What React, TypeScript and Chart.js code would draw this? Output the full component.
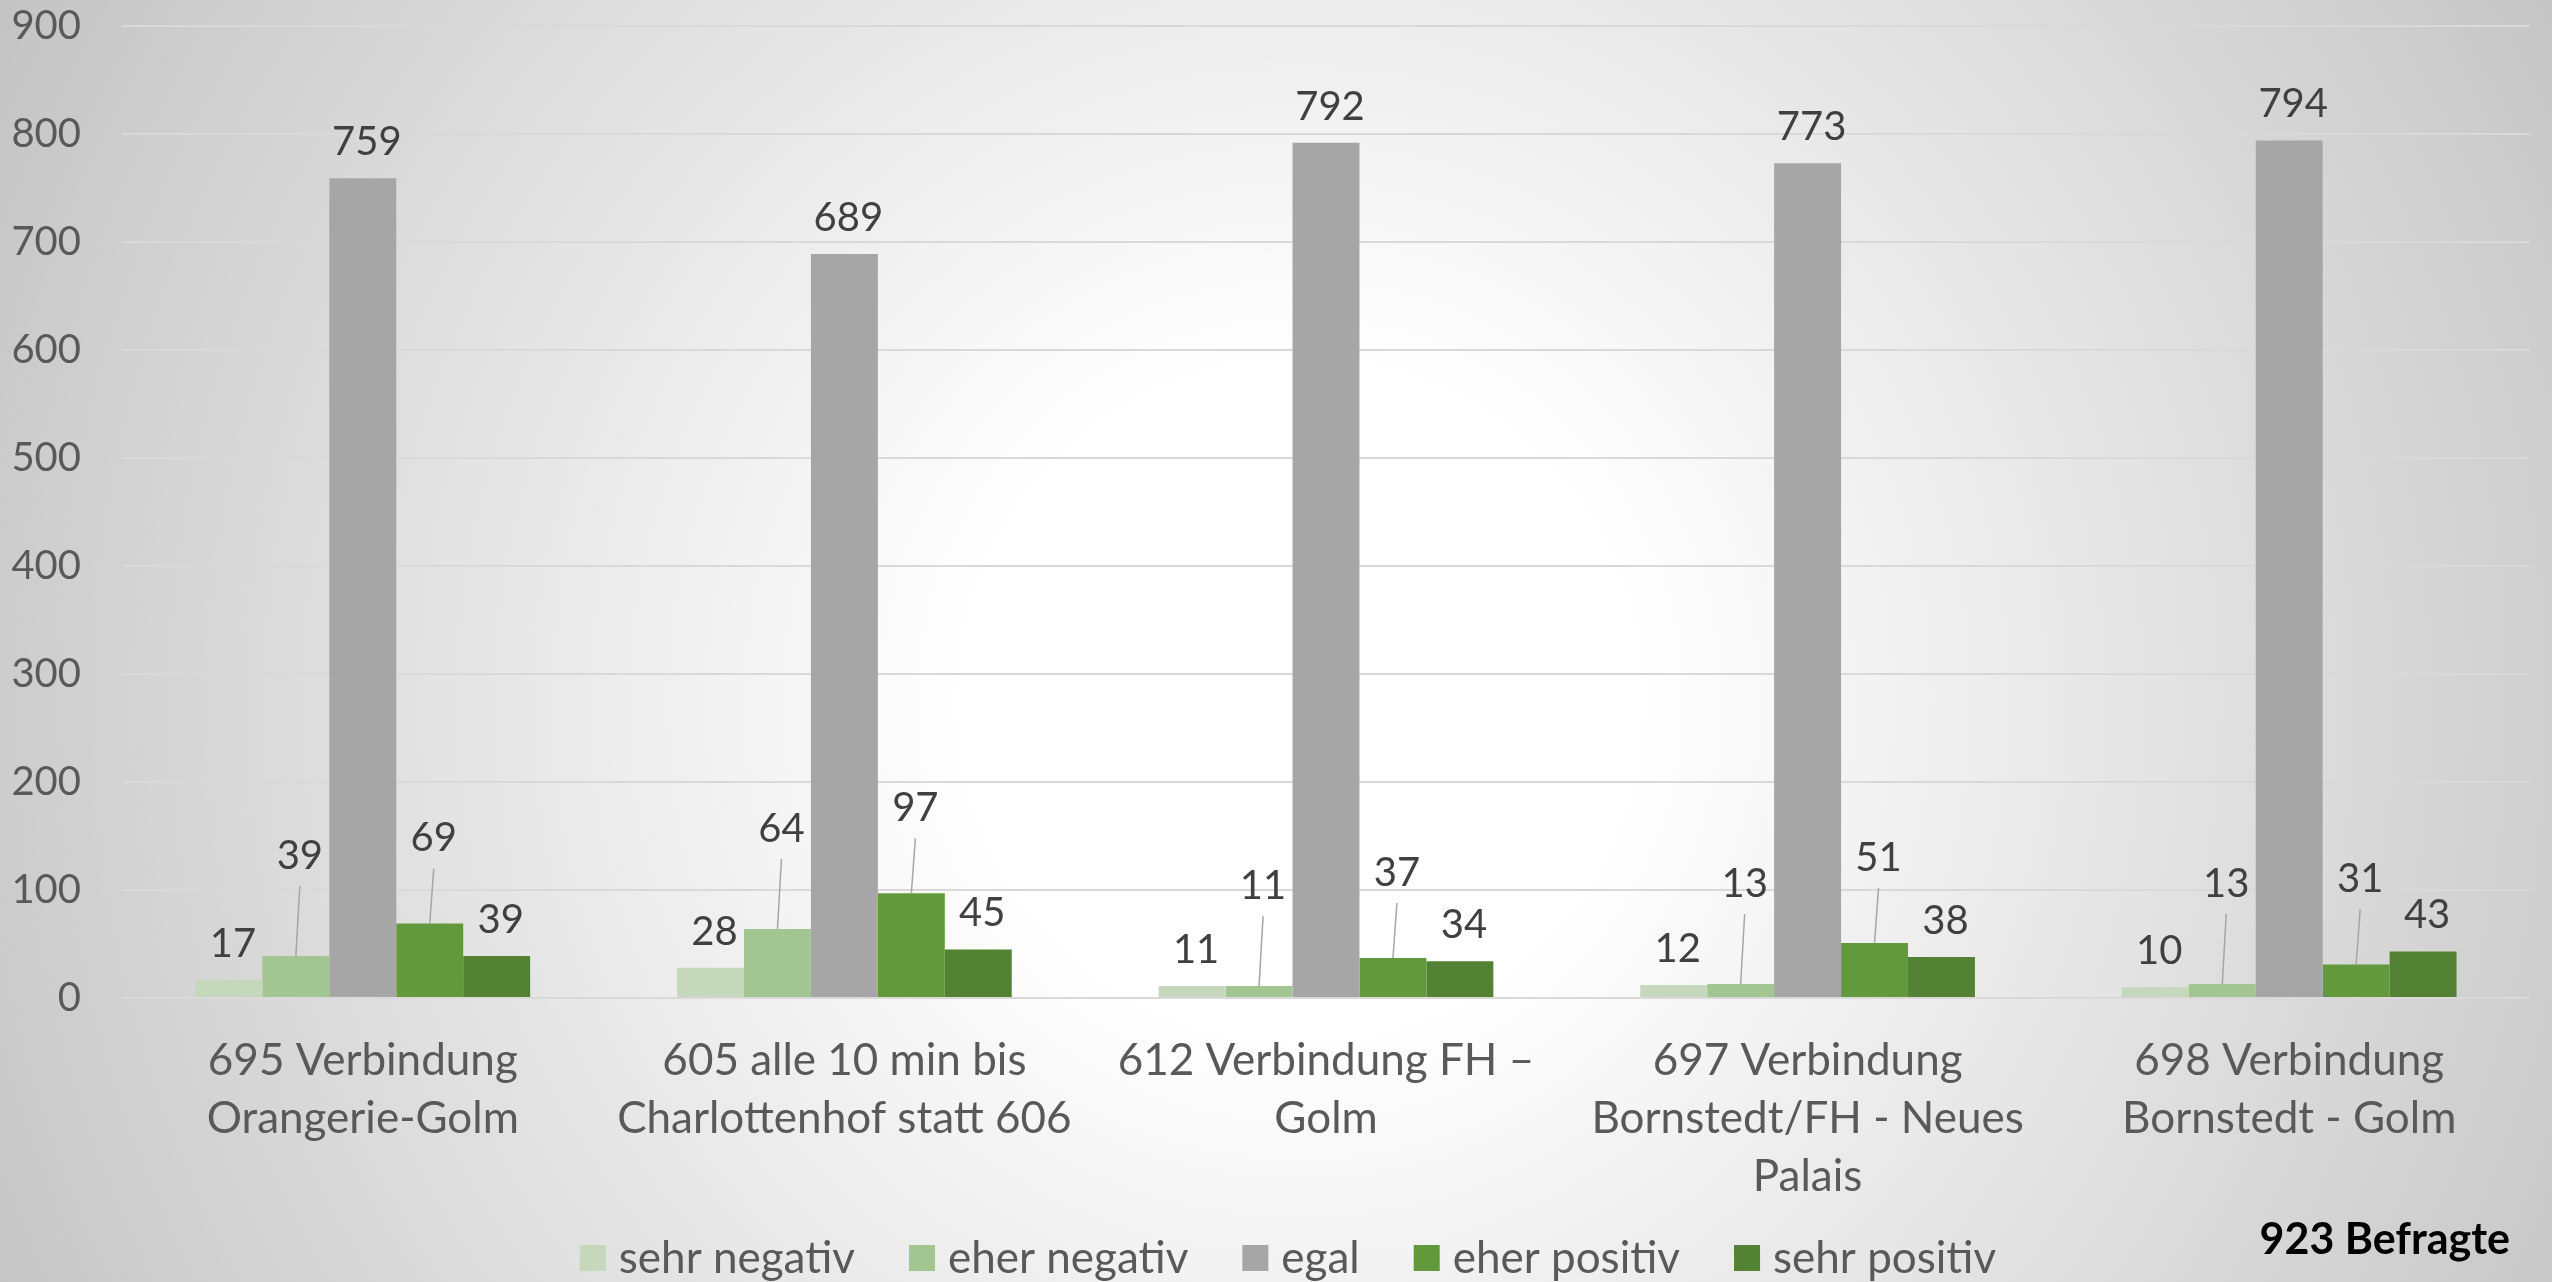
import React, { useEffect, useRef } from "react";
import { Chart, registerables } from "chart.js";

Chart.register(...registerables);

// ---- data ----
const categories: string[][] = [
  ["695 Verbindung", "Orangerie-Golm"],
  ["605 alle 10 min bis", "Charlottenhof statt 606"],
  ["612 Verbindung FH –", "Golm"],
  ["697 Verbindung", "Bornstedt/FH - Neues", "Palais"],
  ["698 Verbindung", "Bornstedt - Golm"],
];
const seriesNames = ["sehr negativ", "eher negativ", "egal", "eher positiv", "sehr positiv"];
const sehrNegativ = [17, 28, 11, 12, 10];
const eherNegativ = [39, 64, 11, 13, 13];
const egal = [759, 689, 792, 773, 794];
const eherPositiv = [69, 97, 37, 51, 31];
const sehrPositiv = [39, 45, 34, 38, 43];
const yMin = 0;
const yMax = 900;
const yStep = 100;
const respondentsNote = "923 Befragte";

// ---- styles ----
const seriesColors = ["#C5D8BB", "#A3C592", "#A6A6A6", "#63993D", "#548235"];
const labelLift = [36, 100, 36, 85, 36];
const FONT = "Lato, 'Open Sans', sans-serif";
const W = 2552;
const H = 1282;

const valueLabelsPlugin = {
  id: "valueLabels",
  afterDatasetsDraw(chart: any) {
    const ctx = chart.ctx as CanvasRenderingContext2D;
    ctx.save();
    ctx.font = `40px ${FONT}`;
    ctx.fillStyle = "#404040";
    ctx.textAlign = "center";
    ctx.textBaseline = "middle";
    chart.data.datasets.forEach((ds: any, i: number) => {
      const meta = chart.getDatasetMeta(i);
      meta.data.forEach((bar: any, j: number) => {
        const v = ds.data[j];
        const lift = labelLift[i];
        const ly = bar.y - lift;
        if (lift > 50) {
          ctx.strokeStyle = "#A6A6A6";
          ctx.lineWidth = 1.5;
          ctx.beginPath();
          ctx.moveTo(bar.x, bar.y);
          ctx.lineTo(bar.x + 4, ly + 30);
          ctx.stroke();
        }
        ctx.fillText(String(v), bar.x + 4, ly);
      });
    });
    ctx.restore();
  },
};

const legendPlugin = {
  id: "customLegend",
  afterDraw(chart: any) {
    const ctx = chart.ctx as CanvasRenderingContext2D;
    ctx.save();
    ctx.font = `44px ${FONT}`;
    ctx.textBaseline = "middle";
    ctx.textAlign = "left";
    const box = 26;
    const gapText = 13;
    const gapItem = 54;
    const ds = chart.data.datasets;
    const widths = ds.map((d: any) => box + gapText + ctx.measureText(d.label).width);
    const total = widths.reduce((a: number, b: number) => a + b, 0) + gapItem * (ds.length - 1);
    let x = chart.width / 2 - total / 2 + 12;
    const cy = 1258;
    ds.forEach((d: any, i: number) => {
      ctx.fillStyle = d.backgroundColor;
      ctx.fillRect(x, cy - box / 2, box, box);
      ctx.fillStyle = "#595959";
      ctx.fillText(d.label, x + box + gapText, cy + 1);
      x += widths[i] + gapItem;
    });
    // respondents note
    ctx.font = `bold 43px ${FONT}`;
    ctx.fillStyle = "#000000";
    ctx.textAlign = "right";
    ctx.fillText(respondentsNote, 2510, 1240);
    ctx.restore();
  },
};

export default function App() {
  const ref = useRef<HTMLCanvasElement | null>(null);

  useEffect(() => {
    document.body.style.margin = "0";
    document.body.style.overflow = "hidden";
    if (!ref.current) return;
    const values = [sehrNegativ, eherNegativ, egal, eherPositiv, sehrPositiv];
    const chart = new Chart(ref.current, {
      type: "bar",
      data: {
        labels: categories,
        datasets: seriesNames.map((name, i) => ({
          label: name,
          data: values[i],
          backgroundColor: seriesColors[i],
          borderWidth: 0,
          categoryPercentage: 0.695,
          barPercentage: 1,
        })),
      },
      options: {
        responsive: false,
        animation: false,
        events: [],
        layout: { padding: { left: 0, right: 22, top: 26, bottom: 0 } },
        plugins: {
          legend: { display: false },
          tooltip: { enabled: false },
          title: { display: false },
        },
        scales: {
          x: {
            grid: { display: false },
            border: { display: false },
            ticks: {
              color: "#595959",
              font: { family: FONT, size: 44, lineHeight: 1.32 },
              padding: 26,
              maxRotation: 0,
              autoSkip: false,
            },
            afterFit(scale: any) {
              scale.height = H - 998;
              scale.paddingLeft = 0;
              scale.paddingRight = 0;
            },
          },
          y: {
            min: yMin,
            max: yMax,
            grid: { color: "#D9D9D9", lineWidth: 2, drawTicks: false },
            border: { display: false },
            ticks: {
              stepSize: yStep,
              color: "#595959",
              font: { family: FONT, size: 40 },
              padding: 41,
            },
            afterFit(scale: any) {
              scale.width = 122;
              scale.paddingTop = 0;
              scale.paddingBottom = 0;
            },
          },
        },
      },
      plugins: [valueLabelsPlugin, legendPlugin],
    });
    return () => chart.destroy();
  }, []);

  return (
    <div
      style={{
        width: W,
        height: H,
        background:
          "radial-gradient(circle 1500px at 1300px 700px, #ffffff 0%, #ffffff 22%, #c2c2c2 100%)",
      }}
    >
      <canvas ref={ref} width={W} height={H} style={{ display: "block" }} />
    </div>
  );
}
